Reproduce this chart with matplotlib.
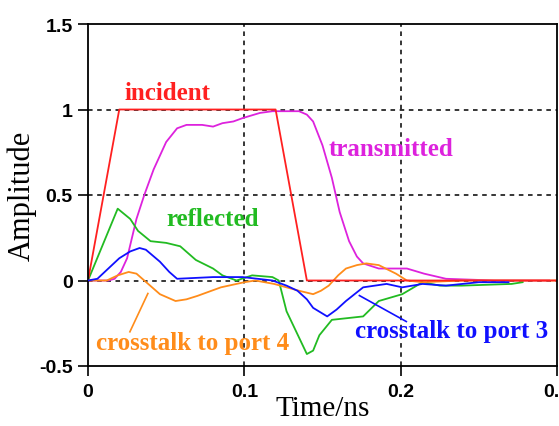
import matplotlib
matplotlib.use("Agg")
import matplotlib.pyplot as plt

# Data (time in ns, amplitude)
t_inc = [0.0, 0.02, 0.12, 0.14, 0.30]
a_inc = [0.0, 1.0, 1.0, 0.0, 0.0]

t_tr = [0.0, 0.013, 0.017, 0.021, 0.025, 0.031, 0.036, 0.042, 0.050, 0.057, 0.063, 0.073,
        0.080, 0.086, 0.093, 0.099, 0.110, 0.118, 0.135, 0.140, 0.144, 0.150, 0.156,
        0.161, 0.167, 0.172, 0.176, 0.186, 0.204, 0.215, 0.229, 0.26, 0.295]
a_tr = [0.0, 0.0, 0.01, 0.05, 0.13, 0.36, 0.50, 0.65, 0.81, 0.89, 0.91, 0.91,
        0.90, 0.92, 0.93, 0.95, 0.98, 0.99, 0.99, 0.97, 0.93, 0.79, 0.60,
        0.40, 0.23, 0.14, 0.10, 0.07, 0.07, 0.04, 0.01, 0.0, 0.0]

t_ref = [0.0, 0.019, 0.023, 0.027, 0.032, 0.040, 0.050, 0.059, 0.064, 0.069, 0.080, 0.086, 0.095,
         0.105, 0.118, 0.122, 0.127, 0.140, 0.144, 0.148, 0.156, 0.176, 0.186, 0.201,
         0.214, 0.225, 0.239, 0.271, 0.278]
a_ref = [0.0, 0.42, 0.39, 0.36, 0.29, 0.23, 0.22, 0.20, 0.16, 0.12, 0.07, 0.03, 0.0,
         0.03, 0.02, 0.0, -0.18, -0.43, -0.41, -0.32, -0.23, -0.21, -0.12, -0.08,
         -0.01, -0.03, -0.03, -0.02, -0.01]

t_x3 = [0.0, 0.006, 0.013, 0.020, 0.027, 0.033, 0.037, 0.046, 0.052, 0.057, 0.080, 0.099, 0.118, 0.127,
        0.134, 0.140, 0.144, 0.153, 0.159, 0.165, 0.176, 0.191, 0.201, 0.214, 0.229, 0.250, 0.269]
a_x3 = [0.0, 0.01, 0.07, 0.13, 0.17, 0.19, 0.18, 0.11, 0.05, 0.01, 0.02, 0.02, 0.0, -0.03,
        -0.06, -0.11, -0.16, -0.21, -0.17, -0.12, -0.04, -0.02, -0.04, -0.02, -0.03, -0.01, -0.01]

t_x4 = [0.0, 0.012, 0.019, 0.026, 0.031, 0.036, 0.046, 0.056, 0.063, 0.070, 0.085, 0.100, 0.107,
        0.119, 0.135, 0.144, 0.149, 0.154, 0.160, 0.165, 0.172, 0.178, 0.186, 0.197, 0.204,
        0.214, 0.240, 0.30]
a_x4 = [0.0, 0.0, 0.03, 0.05, 0.04, 0.0, -0.08, -0.12, -0.11, -0.09, -0.04, -0.01, 0.0,
        -0.02, -0.06, -0.08, -0.06, -0.03, 0.03, 0.07, 0.09, 0.10, 0.09, 0.04, 0.0,
        -0.01, 0.0, 0.0]

x_ticks = [0.0, 0.1, 0.2, 0.3]
x_labels = ["0", "0.1", "0.2", "0.3"]
y_ticks = [-0.5, 0.0, 0.5, 1.0, 1.5]
y_labels = ["-0.5", "0", "0.5", "1", "1.5"]

RED = "#ff2020"
MAG = "#dd22dd"
GRN = "#22bb22"
BLU = "#1010ff"
ORG = "#ff8c1a"

fig = plt.figure(figsize=(5.59, 4.27), dpi=100)
ax = fig.add_axes([88/559, 60/427, (557-88)/559, (367-25)/427])
ax.set_xlim(0, 0.3)
ax.set_ylim(-0.5, 1.5)

# grid
for gx in [0.1, 0.2]:
    ax.axvline(gx, color="black", ls=(0, (3, 3)), lw=1.1, zorder=1)
for gy in [0.0, 0.5, 1.0]:
    ax.axhline(gy, color="black", ls=(0, (3, 3)), lw=1.1, zorder=1)

lw = 1.3
ax.plot(t_tr, a_tr, color=MAG, lw=lw, zorder=2)
ax.plot(t_ref, a_ref, color=GRN, lw=lw, zorder=2)
ax.plot(t_x4, a_x4, color=ORG, lw=lw, zorder=2)
ax.plot(t_x3, a_x3, color=BLU, lw=lw, zorder=3)
ax.plot(t_inc, a_inc, color=RED, lw=lw, zorder=2)

serif = "Liberation Serif"
fs = 18
ax.text(0.051, 1.10, "incident", color=RED, fontsize=fs, fontweight="bold", family=serif, ha="center", va="center")
ax.text(0.194, 0.77, "transmitted", color=MAG, fontsize=fs, fontweight="bold", family=serif, ha="center", va="center")
ax.text(0.080, 0.36, "reflected", color=GRN, fontsize=fs, fontweight="bold", family=serif, ha="center", va="center")
ax.text(0.005, -0.365, "crosstalk to port 4", color=ORG, fontsize=fs, fontweight="bold", family=serif, ha="left", va="center")
ax.text(0.171, -0.29, "crosstalk to port 3", color=BLU, fontsize=fs, fontweight="bold", family=serif, ha="left", va="center")
# leader lines
ax.plot([0.0383, 0.0268], [-0.076, -0.30], color=ORG, lw=1.2)
ax.plot([0.1736, 0.2036], [-0.088, -0.240], color=BLU, lw=1.2)

ax.set_xticks(x_ticks)
ax.set_xticklabels(x_labels)
ax.set_yticks(y_ticks)
ax.set_yticklabels(y_labels)
ax.tick_params(direction="out", length=7, width=1.2)
ax.tick_params(axis="x", pad=5)
ax.tick_params(axis="y", pad=4)
for lab in ax.get_xticklabels() + ax.get_yticklabels():
    lab.set_fontweight("bold")
    lab.set_fontsize(14)
    lab.set_family("Liberation Sans")
for s in ax.spines.values():
    s.set_linewidth(1.3)

ax.set_xlabel("Time/ns", family=serif, fontsize=21, labelpad=-3)
ax.set_ylabel("Amplitude", family=serif, fontsize=22, labelpad=2)

fig.savefig("out.png", dpi=100)
